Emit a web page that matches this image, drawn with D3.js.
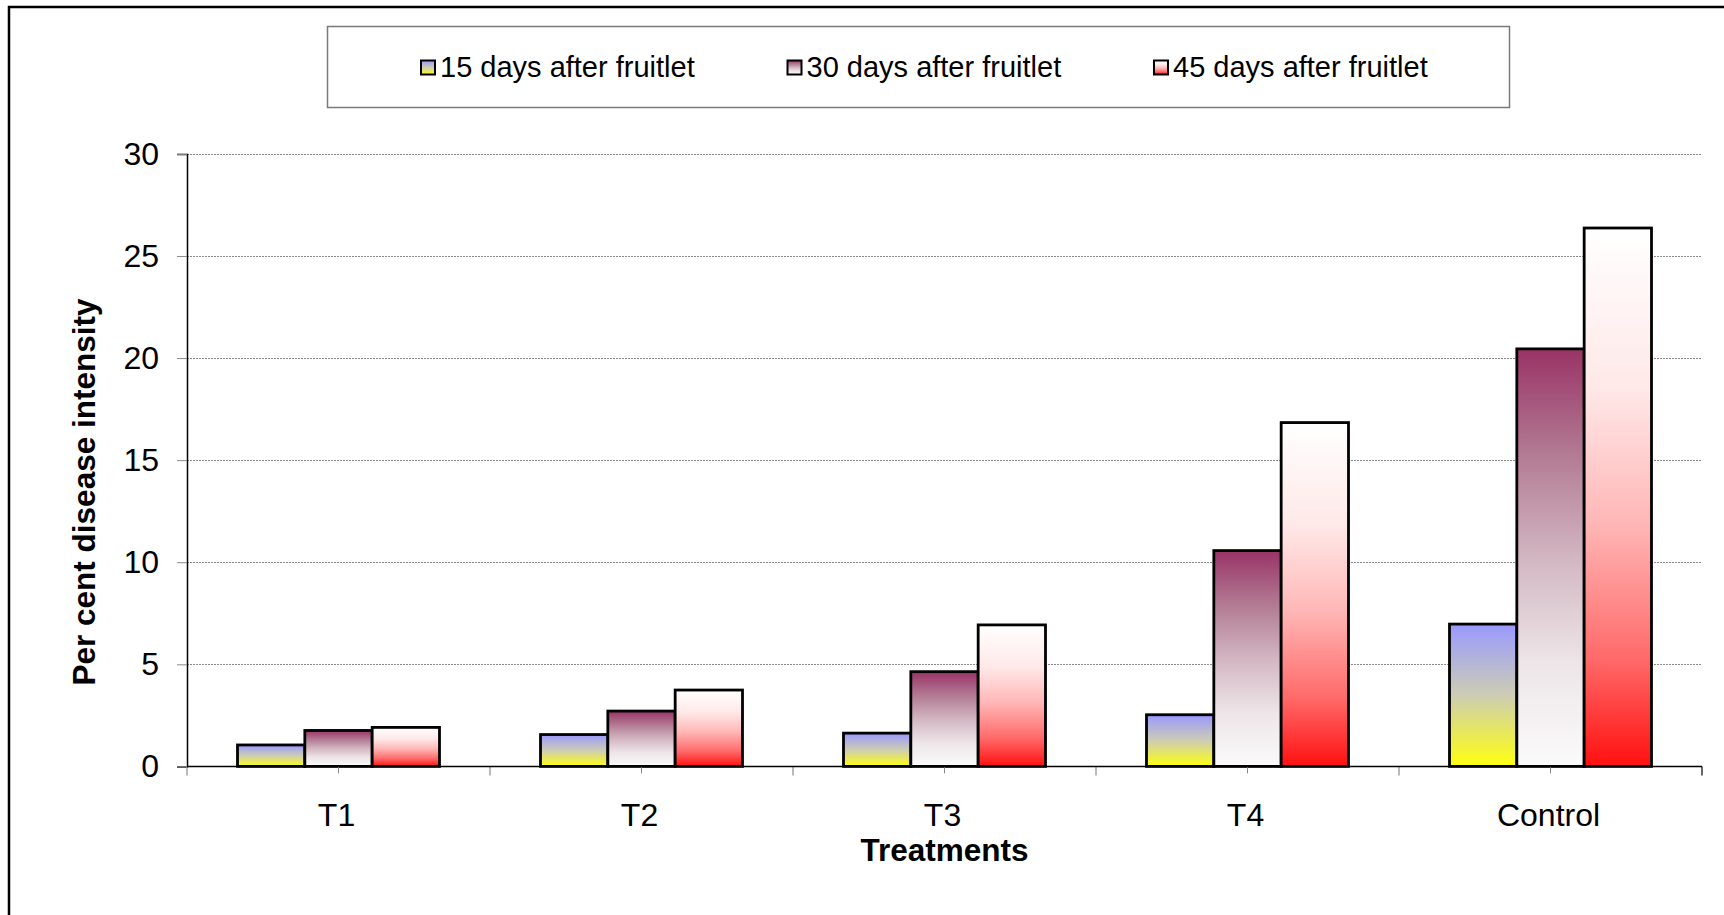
<!DOCTYPE html>
<html>
<head>
<meta charset="utf-8">
<script src="https://cdn.jsdelivr.net/npm/d3@7"></script>
<style>
  html, body { margin: 0; padding: 0; background: #ffffff; }
  svg { display: block; }
  text { font-family: "Liberation Sans", Arial, sans-serif; fill: #000; }
</style>
</head>
<body>
<svg id="chart" width="1724" height="915"></svg>
<script>
// Per cent disease intensity by treatment, at three sampling dates
const categories = ["T1", "T2", "T3", "T4", "Control"];
const seriesNames = ["15 days after fruitlet", "30 days after fruitlet", "45 days after fruitlet"];
const days15 = [1.05, 1.56, 1.63, 2.53, 6.97];
const days30 = [1.76, 2.71, 4.64, 10.57, 20.45];
const days45 = [1.91, 3.74, 6.93, 16.84, 26.37];
const yTicks = [0, 5, 10, 15, 20, 25, 30];
const xTitle = "Treatments";
const yTitle = "Per cent disease intensity";

const seriesValues = [days15, days30, days45];

// vertical gradient stops for each series (top -> bottom)
const gradients = [
  [[0, "#9999ff"], [0.5, "#cdcdb4"], [1, "#ffff10"]],
  [[0, "#993366"], [0.25, "#b27a93"], [0.5, "#d2b6c1"], [0.75, "#ede5e8"], [1, "#fbfbfb"]],
  [[0, "#ffffff"], [0.3, "#ffe8e8"], [0.55, "#ffb6b6"], [0.8, "#ff6a6a"], [1, "#ff1010"]]
];

const svg = d3.select("#chart");

// outer chart frame (right and bottom edges fall outside the page)
svg.append("rect")
  .attr("x", 9).attr("y", 7)
  .attr("width", 1760).attr("height", 960)
  .attr("fill", "none").attr("stroke", "#000").attr("stroke-width", 2.5);

const defs = svg.append("defs");
gradients.forEach((stops, i) => {
  const g = defs.append("linearGradient")
    .attr("id", "grad" + i)
    .attr("x1", 0).attr("y1", 0).attr("x2", 0).attr("y2", 1);
  stops.forEach(s => g.append("stop").attr("offset", s[0]).attr("stop-color", s[1]));
});

const plot = { left: 187, right: 1702, top: 153.9, bottom: 766.4 };

const x = d3.scaleBand().domain(categories).range([plot.left, plot.right]).padding(0);
const xs = d3.scaleBand().domain(d3.range(seriesNames.length))
  .range([0, x.bandwidth()]).paddingInner(0).paddingOuter(0.75);
const y = d3.scaleLinear().domain([0, 30]).range([plot.bottom, plot.top]);

// horizontal gridlines
svg.append("g")
  .selectAll("line")
  .data(yTicks.filter(d => d > 0))
  .join("line")
  .attr("x1", plot.left).attr("x2", plot.right)
  .attr("y1", d => Math.round(y(d)) + 0.5).attr("y2", d => Math.round(y(d)) + 0.5)
  .attr("stroke", "#8a8a8a").attr("stroke-width", 1)
  .attr("stroke-dasharray", "2,1");

// y axis
const yAxis = svg.append("g")
  .attr("transform", `translate(${plot.left},0)`)
  .call(d3.axisLeft(y).tickValues(yTicks).tickSize(10).tickPadding(18).tickFormat(d3.format("d")));
yAxis.select(".domain").attr("stroke", "#000").attr("stroke-width", 1.5);
yAxis.selectAll(".tick line").attr("stroke", "#8a8a8a");
yAxis.selectAll(".tick text")
  .style("font-family", "'Liberation Sans', Arial, sans-serif")
  .style("font-size", "32px").attr("fill", "#000");

// bars
const groups = svg.append("g")
  .selectAll("g")
  .data(categories)
  .join("g")
  .attr("transform", d => `translate(${x(d)},0)`);

groups.selectAll("rect")
  .data((c, ci) => seriesValues.map((vals, si) => ({ si, v: vals[ci] })))
  .join("rect")
  .attr("x", d => xs(d.si))
  .attr("width", xs.bandwidth())
  .attr("y", d => y(d.v))
  .attr("height", d => y(0) - y(d.v))
  .attr("fill", d => `url(#grad${d.si})`)
  .attr("stroke", "#000")
  .attr("stroke-width", 2.8);

// x axis: baseline, ticks at category centres and boundaries
const xAxis = svg.append("g")
  .attr("transform", `translate(0,${plot.bottom})`)
  .call(d3.axisBottom(x).tickSize(7).tickFormat(""));
xAxis.select(".domain").remove();
xAxis.selectAll(".tick line").attr("stroke", "#8a8a8a");

const bounds = categories.map(c => x(c)).concat([plot.right]);
svg.append("g")
  .selectAll("line")
  .data(bounds)
  .join("line")
  .attr("x1", d => d).attr("x2", d => d)
  .attr("y1", plot.bottom).attr("y2", plot.bottom + 9)
  .attr("stroke", (d, i) => i === bounds.length - 1 ? "#000" : "#8a8a8a")
  .attr("stroke-width", 1.2);

svg.append("line")
  .attr("x1", plot.left).attr("x2", plot.right)
  .attr("y1", plot.bottom).attr("y2", plot.bottom)
  .attr("stroke", "#000").attr("stroke-width", 1.5);

// category labels
svg.append("g")
  .selectAll("text")
  .data(categories)
  .join("text")
  .attr("x", d => x(d) + x.bandwidth() / 2 - 2)
  .attr("y", 826)
  .attr("text-anchor", "middle")
  .style("font-size", "32px")
  .text(d => d);

// axis titles
svg.append("text")
  .attr("x", (plot.left + plot.right) / 2)
  .attr("y", 861)
  .attr("text-anchor", "middle")
  .style("font-size", "31.5px").style("font-weight", "bold")
  .text(xTitle);

svg.append("text")
  .attr("transform", "translate(95,492) rotate(-90)")
  .attr("text-anchor", "middle")
  .style("font-size", "31.5px").style("font-weight", "bold")
  .text(yTitle);

// legend
const legend = svg.append("g");
legend.append("rect")
  .attr("x", 327.5).attr("y", 26.5)
  .attr("width", 1182).attr("height", 81)
  .attr("fill", "#fff").attr("stroke", "#7a7a7a").attr("stroke-width", 1.5);

const legendX = d3.scaleLinear().domain([0, 1]).range([421, 787.5]);
const items = legend.selectAll("g.item")
  .data(seriesNames)
  .join("g")
  .attr("class", "item")
  .attr("transform", (d, i) => `translate(${legendX(i)},0)`);
items.append("rect")
  .attr("x", 0).attr("y", 60.5)
  .attr("width", 14).attr("height", 14)
  .attr("fill", (d, i) => `url(#grad${i})`)
  .attr("stroke", "#000").attr("stroke-width", 2);
items.append("text")
  .attr("x", 19).attr("y", 77)
  .style("font-size", "29px")
  .text(d => d);
</script>
</body>
</html>
